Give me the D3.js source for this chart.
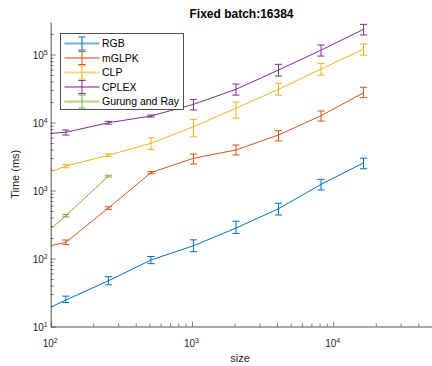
<!DOCTYPE html>
<html>
<head>
<meta charset="utf-8">
<script src="https://cdn.jsdelivr.net/npm/d3@7"></script>
<style>
  body { margin: 0; background: #fff; }
  svg { font-family: 'Liberation Sans', Arial, sans-serif; }
  .axis path, .axis line { stroke: #262626; }
</style>
</head>
<body>
<svg></svg>
<script>
// problem sizes (x = 64 sits left of the axis and is clipped)
const sizes = [64, 128, 256, 512, 1024, 2048, 4096, 8192, 16384];
const gurungSizes = [64, 128, 256];

const rgbMean = [12.4, 24.5, 47, 95, 154, 280, 540, 1230, 2550];
const rgbLow = [12, 22.5, 41, 84, 126, 234, 437, 1020, 2090];
const rgbHigh = [13, 28, 54, 107, 188, 354, 650, 1460, 2990];

const glpkMean = [125, 173, 553, 1830, 2980, 3950, 6550, 12600, 27400];
const glpkLow = [120, 160, 530, 1760, 2450, 3330, 5350, 10500, 23200];
const glpkHigh = [130, 187, 577, 1900, 3440, 4670, 7570, 14800, 33000];

const clpMean = [1330, 2290, 3300, 4950, 8670, 16200, 30800, 61200, 120000];
const clpLow = [1300, 2160, 3150, 4040, 6180, 11600, 25300, 50000, 98000];
const clpHigh = [1360, 2430, 3450, 5970, 11100, 20000, 37700, 74300, 143000];

const cplexMean = [6520, 7180, 9930, 12470, 18500, 30800, 59100, 116000, 235000];
const cplexLow = [6400, 6550, 9450, 12000, 15300, 25300, 48300, 95000, 194000];
const cplexHigh = [6650, 7760, 10400, 12900, 21900, 36800, 71800, 138000, 278000];

const gurungMean = [121, 426, 1630];
const gurungLow = [118, 410, 1580];
const gurungHigh = [124, 442, 1680];

const names = ['RGB', 'mGLPK', 'CLP', 'CPLEX', 'Gurung and Ray'];
const colors = ['#0072BD', '#D95319', '#EDB120', '#7E2F8E', '#77AC30'];

const xTicks = [1e2, 1e3, 1e4];
const yTicks = [1e1, 1e2, 1e3, 1e4, 1e5];

const series = [
  { xs: sizes, mean: rgbMean, low: rgbLow, high: rgbHigh },
  { xs: sizes, mean: glpkMean, low: glpkLow, high: glpkHigh },
  { xs: sizes, mean: clpMean, low: clpLow, high: clpHigh },
  { xs: sizes, mean: cplexMean, low: cplexLow, high: cplexHigh },
  { xs: gurungSizes, mean: gurungMean, low: gurungLow, high: gurungHigh },
].map((s, i) => ({
  name: names[i],
  color: colors[i],
  points: s.xs.map((x, j) => ({ x, m: s.mean[j], lo: s.low[j], hi: s.high[j] })),
}));

const width = 432;
const height = 366;
const svg = d3.select('svg')
  .attr('width', width)
  .attr('height', height);

const x = d3.scaleLog().domain([100, 5e4]).range([50.7, 432]);
const y = d3.scaleLog().domain([10, 3e5]).range([326.5, 22.1]);

const minor = (lo, hi) => {
  const out = [];
  for (let p = Math.floor(Math.log10(lo)); p <= Math.ceil(Math.log10(hi)); p++) {
    for (let k = 2; k <= 9; k++) {
      const v = k * Math.pow(10, p);
      if (v > lo && v < hi) out.push(v);
    }
  }
  return out;
};

svg.append('defs').append('clipPath').attr('id', 'plot')
  .append('rect')
  .attr('x', x.range()[0])
  .attr('y', y.range()[1])
  .attr('width', x.range()[1] - x.range()[0])
  .attr('height', y.range()[0] - y.range()[1]);

// axes
const xAxis = svg.append('g').attr('class', 'axis')
  .attr('transform', `translate(0,${y.range()[0]})`)
  .call(d3.axisBottom(x).tickValues(xTicks).tickSize(-5).tickSizeOuter(0).tickFormat(() => ''));
svg.append('g').attr('class', 'axis')
  .attr('transform', `translate(0,${y.range()[0]})`)
  .call(d3.axisBottom(x).tickValues(minor(100, 5e4)).tickSize(-3).tickSizeOuter(0).tickFormat(() => ''))
  .select('.domain').remove();

const yAxis = svg.append('g').attr('class', 'axis')
  .attr('transform', `translate(${x.range()[0]},0)`)
  .call(d3.axisLeft(y).tickValues(yTicks).tickSize(-5).tickSizeOuter(0).tickFormat(() => ''));
svg.append('g').attr('class', 'axis')
  .attr('transform', `translate(${x.range()[0]},0)`)
  .call(d3.axisLeft(y).tickValues(minor(10, 3e5)).tickSize(-3).tickSizeOuter(0).tickFormat(() => ''))
  .select('.domain').remove();

svg.selectAll('.axis path, .axis line').attr('stroke-width', 0.6);
svg.selectAll('.axis .domain').attr('stroke-width', 0.8);

const powLabel = (sel, v) => {
  sel.append('tspan').text('10');
  sel.append('tspan').attr('font-size', 7).attr('dy', -4).text(Math.round(Math.log10(v)));
};

xAxis.selectAll('.tick').append('text')
  .attr('fill', '#262626')
  .attr('font-size', 10)
  .attr('text-anchor', 'middle')
  .attr('x', -1)
  .attr('y', 20)
  .each(function (d) { powLabel(d3.select(this), d); });

yAxis.selectAll('.tick').append('text')
  .attr('fill', '#262626')
  .attr('font-size', 10)
  .attr('text-anchor', 'end')
  .attr('x', -3)
  .attr('y', 3.5)
  .each(function (d) { powLabel(d3.select(this), d); });

// data
const plot = svg.append('g').attr('clip-path', 'url(#plot)');
const line = d3.line().x(d => x(d.x)).y(d => y(d.m));
const cap = 3.6;

series.forEach((s) => {
  const g = plot.append('g').attr('stroke', s.color).attr('fill', 'none').attr('stroke-width', 1);
  g.append('path').datum(s.points).attr('d', line);
  const bars = g.selectAll('.eb').data(s.points).enter().append('g');
  bars.append('line')
    .attr('x1', d => x(d.x)).attr('x2', d => x(d.x))
    .attr('y1', d => y(d.lo)).attr('y2', d => y(d.hi));
  bars.append('line')
    .attr('x1', d => x(d.x) - cap).attr('x2', d => x(d.x) + cap)
    .attr('y1', d => y(d.lo)).attr('y2', d => y(d.lo));
  bars.append('line')
    .attr('x1', d => x(d.x) - cap).attr('x2', d => x(d.x) + cap)
    .attr('y1', d => y(d.hi)).attr('y2', d => y(d.hi));
});

// labels
svg.append('text')
  .attr('x', 241.5).attr('y', 18)
  .attr('text-anchor', 'middle')
  .attr('font-weight', 'bold')
  .attr('font-size', 12)
  .attr('fill', '#000')
  .text('Fixed batch:16384');

svg.append('text')
  .attr('x', 240).attr('y', 362)
  .attr('text-anchor', 'middle')
  .attr('font-size', 11)
  .attr('fill', '#262626')
  .text('size');

svg.append('text')
  .attr('transform', `translate(19,${(y.range()[0] + y.range()[1]) / 2}) rotate(-90)`)
  .attr('text-anchor', 'middle')
  .attr('font-size', 11)
  .attr('fill', '#262626')
  .text('Time (ms)');

// legend
const legend = svg.append('g').attr('transform', 'translate(60.5,33.5)');
legend.append('rect')
  .attr('width', 123).attr('height', 76)
  .attr('fill', '#fff')
  .attr('stroke', '#262626')
  .attr('stroke-width', 0.8);

const item = legend.selectAll('.item').data(series).enter().append('g')
  .attr('transform', (d, i) => `translate(0,${10 + i * 14.5})`);
item.append('line')
  .attr('x1', 4).attr('x2', 39)
  .attr('stroke', d => d.color)
  .attr('stroke-width', 2)
  .attr('stroke-opacity', 0.55);
item.append('line')
  .attr('x1', 21.5).attr('x2', 21.5).attr('y1', -6.5).attr('y2', 6.5)
  .attr('stroke', d => d.color);
item.selectAll('.cap').data(d => [-6.5, 6.5].map(v => ({ v, c: d.color }))).enter().append('line')
  .attr('x1', 21.5 - cap).attr('x2', 21.5 + cap)
  .attr('y1', d => d.v).attr('y2', d => d.v)
  .attr('stroke', d => d.c);
item.append('text')
  .attr('x', 41.5).attr('y', 3.8)
  .attr('font-size', 10.5)
  .attr('fill', '#000')
  .text(d => d.name);
</script>
</body>
</html>
